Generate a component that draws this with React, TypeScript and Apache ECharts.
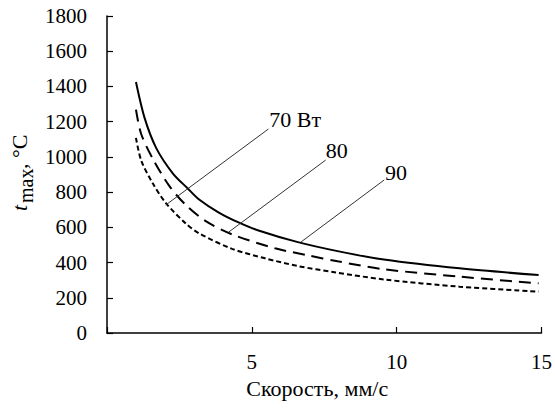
import React, { useEffect, useRef } from "react";
import * as echarts from "echarts";

// Series data (speed, mm/s -> t_max, °C)
const speed90 = [1.0, 1.3, 1.7, 2.27, 2.78, 3.18, 3.86, 4.54, 5.23, 6.59, 7.96, 9.56, 12.17, 14.9];
const temp90 = [1425, 1220, 1050, 907, 822, 758, 684, 628, 582, 516, 465, 417, 367, 329];

const speed80 = [1.0, 1.18, 1.58, 2.15, 2.72, 3.41, 4.32, 5.8, 6.94, 7.96, 9.56, 12.17, 14.9];
const temp80 = [1268, 1130, 990, 835, 727, 635, 560, 481, 441, 407, 362, 320, 282];

const speed70 = [1.0, 1.18, 1.58, 2.04, 2.72, 3.18, 4.32, 5.46, 6.59, 7.85, 9.56, 12.17, 14.9];
const temp70 = [1108, 980, 850, 736, 622, 566, 478, 424, 380, 345, 304, 263, 235];

// Annotation labels and their leader lines (data coordinates)
const labelTexts = ["70 Вт", "80", "90"];
const labelAt = [
  [5.6, 1215],
  [7.55, 1039],
  [9.6, 909],
];
const leaderFrom = [
  [5.57, 1158],
  [7.55, 982],
  [9.57, 869],
];
const leaderTo = [
  [2.03, 727],
  [4.2, 573],
  [6.7, 517],
];

const yMin = 0;
const yMax = 1800;
const yStep = 200;
const xMin = 0;
const xMax = 15;
const xStep = 5;

const FONT = "Liberation Serif";

function pairs(xs: number[], ys: number[]) {
  return xs.map((x, i) => [x, ys[i]]);
}

function annotation(i: number) {
  return {
    markLine: {
      silent: true,
      symbol: "none",
      lineStyle: { type: "solid", width: 1, color: "#333" },
      label: { show: false },
      data: [[{ coord: leaderFrom[i] }, { coord: leaderTo[i] }]],
    },
    markPoint: {
      silent: true,
      symbol: "circle",
      symbolSize: 0,
      data: [{ coord: labelAt[i] }],
      label: {
        show: true,
        position: "right",
        distance: 0,
        formatter: labelTexts[i],
        color: "#000",
        fontFamily: FONT,
        fontSize: 22,
      },
    },
  };
}

export default function App() {
  const ref = useRef<HTMLDivElement>(null);

  useEffect(() => {
    if (!ref.current) return;
    const chart = echarts.init(ref.current, undefined, { renderer: "svg" });
    chart.setOption({
      animation: false,
      backgroundColor: "#fff",
      textStyle: { fontFamily: FONT },
      grid: { left: 107, right: 9, top: 16, bottom: 76, containLabel: false },
      xAxis: {
        type: "value",
        min: xMin,
        max: xMax,
        interval: xStep,
        splitLine: { show: false },
        axisLine: { show: true, lineStyle: { color: "#000", width: 1.5 } },
        axisTick: { show: true, inside: true, length: 6, lineStyle: { color: "#000", width: 1.2 } },
        axisLabel: {
          margin: 18,
          color: "#000",
          fontFamily: FONT,
          fontSize: 21,
          formatter: (v: number) => (v === 0 ? "" : String(v)),
        },
        name: "Скорость, мм/с",
        nameLocation: "middle",
        nameGap: 44,
        nameTextStyle: {
          color: "#000",
          fontFamily: FONT,
          fontSize: 22,
          padding: [0, 14, 0, 0],
        },
      },
      yAxis: {
        type: "value",
        min: yMin,
        max: yMax,
        interval: yStep,
        splitLine: { show: false },
        axisLine: { show: true, lineStyle: { color: "#000", width: 1.5 } },
        axisTick: { show: true, inside: true, length: 6, lineStyle: { color: "#000", width: 1.2 } },
        axisLabel: {
          margin: 20,
          color: "#000",
          fontFamily: FONT,
          fontSize: 21,
          formatter: (v: number) => String(v),
        },
      },
      graphic: [
        {
          type: "group",
          x: 19,
          y: 211,
          rotation: Math.PI / 2,
          silent: true,
          children: [
            {
              type: "text",
              x: 0,
              y: 0,
              style: {
                text: "t",
                font: `italic 22px ${FONT}`,
                fill: "#000",
                textAlign: "left",
                textVerticalAlign: "middle",
              },
            },
            {
              type: "text",
              x: 8,
              y: 7,
              style: {
                text: "max",
                font: `20px ${FONT}`,
                fill: "#000",
                textAlign: "left",
                textVerticalAlign: "middle",
              },
            },
            {
              type: "text",
              x: 42,
              y: 0,
              style: {
                text: ", °C",
                font: `22px ${FONT}`,
                fill: "#000",
                textAlign: "left",
                textVerticalAlign: "middle",
              },
            },
          ],
        },
      ],
      series: [
        {
          name: "90",
          type: "line",
          data: pairs(speed90, temp90),
          smooth: 0.3,
          showSymbol: false,
          lineStyle: { color: "#000", width: 2, type: "solid" },
          ...annotation(2),
        },
        {
          name: "80",
          type: "line",
          data: pairs(speed80, temp80),
          smooth: 0.3,
          showSymbol: false,
          lineStyle: { color: "#000", width: 2, type: [12, 7] },
          ...annotation(1),
        },
        {
          name: "70",
          type: "line",
          data: pairs(speed70, temp70),
          smooth: 0.3,
          showSymbol: false,
          lineStyle: { color: "#000", width: 2, type: [5, 3] },
          ...annotation(0),
        },
      ],
    });
    return () => chart.dispose();
  }, []);

  return <div ref={ref} style={{ width: 555, height: 409, position: "absolute", left: 0, top: 0 }} />;
}
